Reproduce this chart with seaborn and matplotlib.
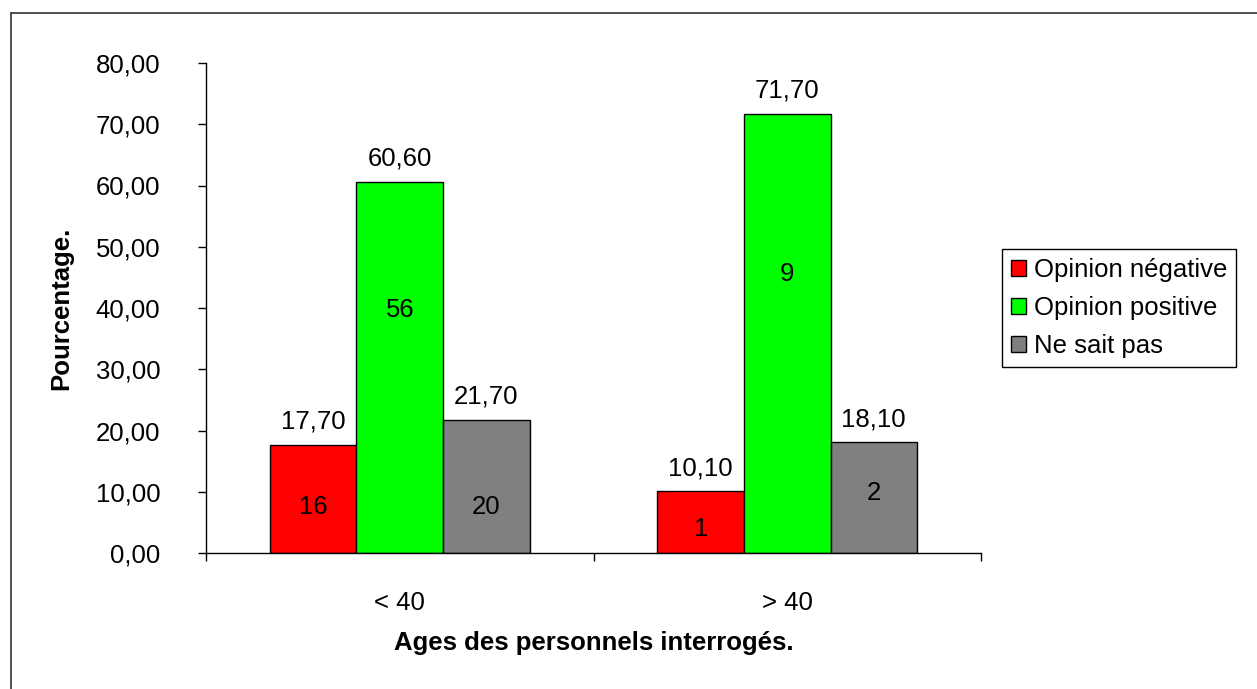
import numpy as np
import pandas as pd
import seaborn as sns
import matplotlib.pyplot as plt
from matplotlib.lines import Line2D

# data
ages = ['< 40', '> 40']
opinions = ['Opinion négative', 'Opinion positive', 'Ne sait pas']
pct_neg = [17.70, 10.10]
pct_pos = [60.60, 71.70]
pct_nsp = [21.70, 18.10]
n_neg = [16, 1]
n_pos = [56, 9]
n_nsp = [20, 2]

# where the counts sit inside the bars (data units, as in the original)
count_y = [[7.5, 3.9], [39.7, 45.5], [7.5, 9.8]]

colors = ['#ff0000', '#00ff00', '#808080']

df = pd.DataFrame({
    'age': ages * 3,
    'opinion': [o for o in opinions for _ in ages],
    'pct': pct_neg + pct_pos + pct_nsp,
})
counts = [n_neg, n_pos, n_nsp]

sns.set_style('white')
plt.rcParams['font.family'] = ['Liberation Sans', 'DejaVu Sans']
plt.rcParams.update({'text.color': 'black', 'axes.labelcolor': 'black',
                     'xtick.color': 'black', 'ytick.color': 'black'})
fs = 18.5

fig = plt.figure(figsize=(12.57, 6.89), dpi=100)
W, H = 1257, 689
ax = fig.add_axes([206 / W, (H - 553) / H, (981 - 206) / W, (553 - 63) / H])

sns.barplot(data=df, x='age', y='pct', hue='opinion', hue_order=opinions,
            palette=colors, width=0.67, saturation=1, edgecolor='black',
            linewidth=1, ax=ax)

# percent labels above bars, counts inside
for i, cont in enumerate(ax.containers):
    vals = [p.get_height() for p in cont]
    ax.bar_label(cont, labels=[f"{v:.2f}".replace('.', ',') for v in vals],
                 padding=8, fontsize=fs, color='black')
    for j, p in enumerate(cont):
        ax.text(p.get_x() + p.get_width() / 2, count_y[i][j], str(counts[i][j]),
                ha='center', va='center', fontsize=fs, color='black')

ax.set_ylim(0, 80)
ax.set_xlim(-0.5, 1.5)
ax.set_yticks(np.arange(0, 81, 10))
ax.set_yticklabels([f"{t:.2f}".replace('.', ',') for t in np.arange(0, 81, 10)])
ax.tick_params(axis='y', left=True, length=6, width=1, pad=27, labelsize=fs,
               color='black')

# category boundary ticks like Excel, labels on minor ticks
ax.set_xticks([-0.5, 0.5, 1.5])
ax.set_xticklabels([])
ax.set_xticks([0, 1], minor=True)
ax.set_xticklabels(ages, minor=True)
ax.tick_params(axis='x', which='major', bottom=True, length=6, width=1,
               color='black')
ax.tick_params(axis='x', which='minor', bottom=True, length=0, pad=27,
               labelsize=fs)

for s in ['top', 'right']:
    ax.spines[s].set_visible(False)
for s in ['left', 'bottom']:
    ax.spines[s].set_color('black')
    ax.spines[s].set_linewidth(1)

ax.set_ylabel('Pourcentage.', fontsize=fs, fontweight='bold', labelpad=16)
ax.set_xlabel('Ages des personnels interrogés.', fontsize=fs,
              fontweight='bold', labelpad=12)

leg = ax.legend(loc='center left', bbox_to_anchor=(1.027, 0.5), fontsize=fs,
                frameon=True, fancybox=False, framealpha=1, borderpad=0.35,
                handlelength=0.6, handleheight=0.6, handletextpad=0.3,
                labelspacing=0.55, borderaxespad=0)
leg.get_frame().set_edgecolor('black')
leg.get_frame().set_linewidth(1)
for h in leg.legend_handles:
    h.set_edgecolor('black')

# outer chart border (right and bottom edges are off the picture)
fig.add_artist(Line2D([11 / W, 11 / W], [0, 1 - 13 / H], color='#333333', lw=1.2))
fig.add_artist(Line2D([11 / W, 1], [1 - 13 / H, 1 - 13 / H], color='#333333', lw=1.2))

fig.savefig('out.png', dpi=100)
